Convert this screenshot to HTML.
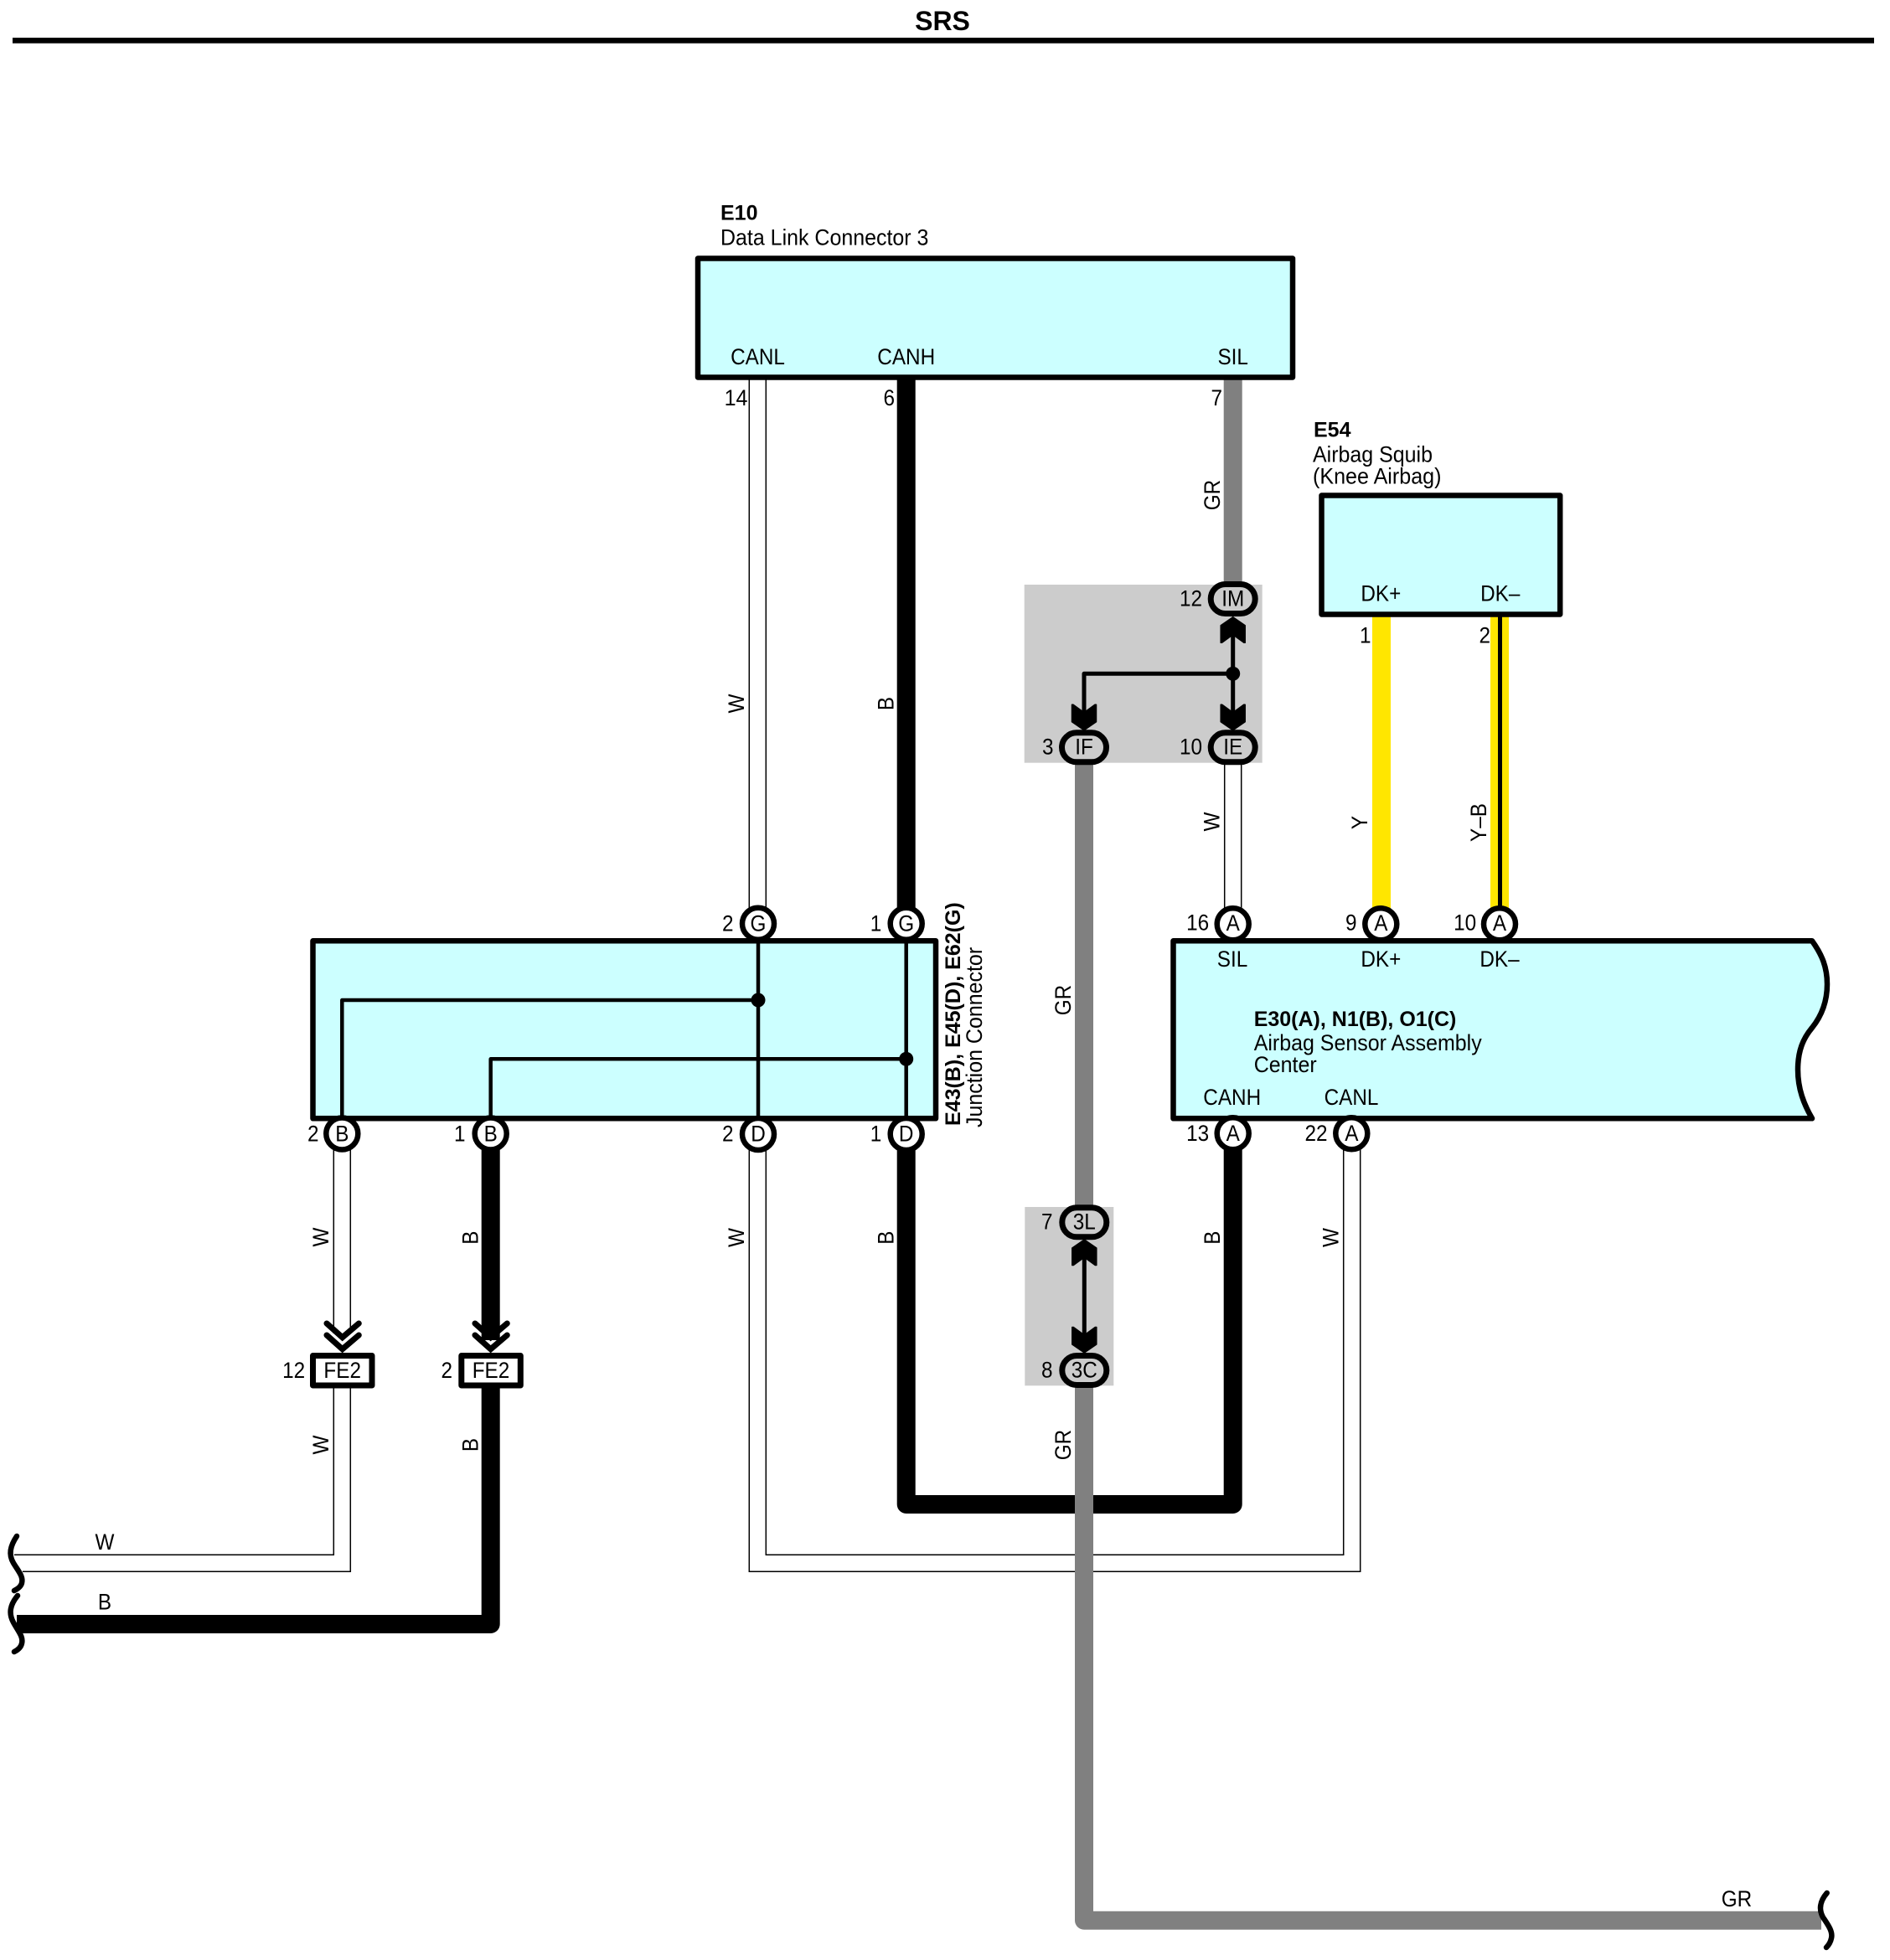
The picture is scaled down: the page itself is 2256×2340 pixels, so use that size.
<!DOCTYPE html>
<html><head><meta charset="utf-8"><title>SRS</title>
<style>
html,body{margin:0;padding:0;background:#fff}
svg{display:block}
text{font-family:"Liberation Sans",Arial,sans-serif;fill:#000}
.t{font-size:27px}
.m{font-size:27px;text-anchor:middle}
.e{font-size:27px;text-anchor:end}
.b{font-size:25px;font-weight:bold}
.c{fill:#fff;stroke:#000;stroke-width:6.5}
.p{fill:#ccc;stroke:#000;stroke-width:7}
.box{fill:#ccffff;stroke:#000;stroke-width:6.5;stroke-linejoin:round}
.thin{fill:none;stroke:#000;stroke-width:1.5}
.k{fill:none;stroke:#000;stroke-width:22;stroke-linejoin:round}
.g{fill:none;stroke:#808080;stroke-width:22;stroke-linejoin:round}
.in{fill:none;stroke:#000;stroke-width:4.5;stroke-linejoin:round}
.cv{fill:none;stroke:#000;stroke-width:7;stroke-linecap:round;stroke-linejoin:miter}
.cu{fill:none;stroke:#000;stroke-width:6.5;stroke-linecap:round}
</style></head>
<body>
<svg xmlns="http://www.w3.org/2000/svg" width="2256" height="2340" viewBox="0 0 2256 2340">
<rect width="2256" height="2340" fill="#fff"/>
<defs>
<path id="au" d="M0 0L14.5 10V30.5H13L0 21L-13 30.5H-14.5V10Z" fill="#000" stroke="#000" stroke-width="1.5" stroke-linejoin="round"/>
<path id="ad" d="M0 0L14.5 -10V-30.5H13L0 -21L-13 -30.5H-14.5V-10Z" fill="#000" stroke="#000" stroke-width="1.5" stroke-linejoin="round"/>
</defs>

<!-- title -->
<text x="1125" y="36" style="font-size:32px;font-weight:bold;text-anchor:middle">SRS</text>
<rect x="15" y="45" width="2222" height="6.7" fill="#000"/>

<!-- shaded boxes -->
<rect x="1222.7" y="698" width="284" height="212.7" fill="#ccc"/>
<rect x="1223.3" y="1441" width="106" height="213.3" fill="#ccc"/>

<!-- thin W wires -->
<path class="thin" d="M894.3 452V1085M914.3 452V1085"/>
<path class="thin" d="M1461.7 910V1085M1481.7 910V1085"/>
<path class="thin" d="M894.3 1370V1876.3H1623.7V1370M914.3 1370V1856.3H1603.7V1370"/>
<path class="thin" d="M398.3 1370V1592M418.3 1370V1592"/>
<path class="thin" d="M398.3 1657V1856.3H17M418.3 1657V1876.3H27"/>

<!-- black wires -->
<path class="k" d="M1081.7 452V1085"/>
<path class="k" d="M1081.7 1370V1796H1471.7V1370"/>
<path class="k" d="M585.7 1370V1600"/>
<path class="k" d="M585.7 1655V1939H20"/>

<!-- gray wires -->
<path class="g" d="M1471.7 452V700"/>
<path class="g" d="M1294 910V1441"/>
<path class="g" d="M1294 1654V2292.7H2174"/>

<!-- yellow wires -->
<rect x="1638" y="735" width="22" height="350" fill="#ffe600"/>
<rect x="1779" y="735" width="22" height="350" fill="#ffe600"/>
<rect x="1788" y="735" width="5" height="350" fill="#000"/>

<!-- boxes -->
<rect class="box" x="833" y="308.5" width="710" height="142"/>
<rect class="box" x="1577.5" y="591.5" width="284.7" height="142"/>
<rect class="box" x="373.5" y="1123.3" width="743.5" height="212"/>
<path class="box" d="M1400.5 1123.3H2163C2175 1140 2181 1155 2181 1175C2181 1195 2175 1212 2163 1227C2152 1240 2146 1255 2146 1277C2146 1300 2153 1318 2163 1335.3H1400.5Z"/>

<!-- junction internals -->
<path class="in" d="M905 1123V1335M1081.7 1123V1335"/>
<path class="in" d="M408.3 1335V1194H905M585.7 1335V1264.3H1081.7"/>
<circle cx="905" cy="1194" r="8.5"/>
<circle cx="1081.7" cy="1264.3" r="8.5"/>

<!-- IM/IE/IF internals -->
<path class="in" style="stroke-width:5" d="M1471.7 745V860M1294 860V804.3H1471.7"/>
<circle cx="1471.7" cy="804.3" r="8.5"/>
<use href="#au" x="1471.7" y="736.7"/>
<use href="#ad" x="1471.7" y="871.7"/>
<use href="#ad" x="1294" y="871.7"/>
<path class="in" style="stroke-width:5" d="M1294.3 1490V1605"/>
<use href="#au" x="1294.3" y="1480"/>
<use href="#ad" x="1294.3" y="1615"/>

<!-- round connectors -->
<circle class="c" cx="905" cy="1102.7" r="19"/>
<circle class="c" cx="1081.7" cy="1102.7" r="19"/>
<circle class="c" cx="905" cy="1354" r="19"/>
<circle class="c" cx="1081.7" cy="1354" r="19"/>
<circle class="c" cx="408.3" cy="1353.5" r="19"/>
<circle class="c" cx="585.7" cy="1353.5" r="19"/>
<circle class="c" cx="1471.7" cy="1103.3" r="19"/>
<circle class="c" cx="1648.3" cy="1103.3" r="19"/>
<circle class="c" cx="1790" cy="1103.3" r="19"/>
<circle class="c" cx="1471.7" cy="1353.3" r="19"/>
<circle class="c" cx="1613.3" cy="1353.3" r="19"/>

<!-- pills -->
<rect class="p" x="1445.2" y="697.5" width="53" height="35" rx="17.5"/>
<rect class="p" x="1445.2" y="874.8" width="53" height="35" rx="17.5"/>
<rect class="p" x="1267.5" y="874.8" width="53" height="35" rx="17.5"/>
<rect class="p" x="1267.8" y="1441.8" width="53" height="35" rx="17.5"/>
<rect class="p" x="1267.8" y="1618.5" width="53" height="35" rx="17.5"/>

<!-- FE2 -->
<path class="cv" d="M390 1580L408.7 1596.7L428.3 1580M390 1594L408.7 1610.7L428.3 1594"/>
<path class="cv" d="M567 1580L585.7 1596.7L605.3 1580M567 1594L585.7 1610.7L605.3 1594"/>
<rect x="373.5" y="1618.5" width="70.5" height="35.5" fill="#fff" stroke="#000" stroke-width="7" stroke-linejoin="round"/>
<rect x="550.8" y="1618.5" width="70.5" height="35.5" fill="#fff" stroke="#000" stroke-width="7" stroke-linejoin="round"/>

<!-- break curls -->
<path class="cu" d="M20 1834C12 1846 10 1856 16 1866C22 1876 28 1882 26 1890C25 1894 21 1897 17 1899"/>
<path class="cu" d="M21 1905C12 1916 10 1926 16 1937C22 1948 28 1954 26 1962C25 1967 21 1970 17 1972"/>
<path class="cu" d="M2180.7 2260C2172 2270 2171 2280 2176 2289C2182 2298 2188 2306 2186 2314C2185 2319 2183 2322 2180 2325"/>

<!-- block titles -->
<text class="b" x="860" y="262.7">E10</text>
<text class="t" transform="translate(860,292.7) scale(.925,1)">Data Link Connector 3</text>
<text class="b" x="1568" y="521.7">E54</text>
<text class="t" transform="translate(1567,551.7) scale(.925,1)">Airbag Squib</text>
<text class="t" transform="translate(1567,577.3) scale(.93,1)">(Knee Airbag)</text>
<text class="b" x="1496.7" y="1225">E30(A), N1(B), O1(C)</text>
<text class="t" transform="translate(1496.7,1254) scale(.925,1)">Airbag Sensor Assembly</text>
<text class="t" transform="translate(1496.7,1280) scale(.925,1)">Center</text>
<text class="b" transform="translate(1146,1344) rotate(-90)">E43(B), E45(D), E62(G)</text>
<text class="t" transform="translate(1172,1346) rotate(-90) scale(.925,1)">Junction Connector</text>

<!-- pin names -->
<text class="m" transform="translate(904.5,435) scale(.9,1)">CANL</text>
<text class="m" transform="translate(1081.7,435) scale(.9,1)">CANH</text>
<text class="m" transform="translate(1471.7,435) scale(.9,1)">SIL</text>
<text class="m" transform="translate(1648.3,717.7) scale(.9,1)">DK+</text>
<text class="m" transform="translate(1790.7,717.7) scale(.9,1)">DK–</text>
<text class="m" transform="translate(1471,1154) scale(.9,1)">SIL</text>
<text class="m" transform="translate(1648.3,1154) scale(.9,1)">DK+</text>
<text class="m" transform="translate(1790,1154) scale(.9,1)">DK–</text>
<text class="m" transform="translate(1470.7,1319) scale(.9,1)">CANH</text>
<text class="m" transform="translate(1613,1319) scale(.9,1)">CANL</text>

<!-- connector letters -->
<text class="m" transform="translate(905,1111.7) scale(.9,1)">G</text>
<text class="m" transform="translate(1081.7,1111.7) scale(.9,1)">G</text>
<text class="m" transform="translate(905,1362.7) scale(.9,1)">D</text>
<text class="m" transform="translate(1081.7,1362.7) scale(.9,1)">D</text>
<text class="m" transform="translate(408.3,1362.3) scale(.9,1)">B</text>
<text class="m" transform="translate(585.7,1362.3) scale(.9,1)">B</text>
<text class="m" transform="translate(1471.7,1111) scale(.9,1)">A</text>
<text class="m" transform="translate(1648.3,1111) scale(.9,1)">A</text>
<text class="m" transform="translate(1790,1111) scale(.9,1)">A</text>
<text class="m" transform="translate(1471.7,1362) scale(.9,1)">A</text>
<text class="m" transform="translate(1613.3,1362) scale(.9,1)">A</text>
<text class="m" transform="translate(1471.7,723.3) scale(.9,1)">IM</text>
<text class="m" transform="translate(1471.7,900.7) scale(.9,1)">IE</text>
<text class="m" transform="translate(1294,900.7) scale(.9,1)">IF</text>
<text class="m" transform="translate(1294.3,1467.3) scale(.9,1)">3L</text>
<text class="m" transform="translate(1294.3,1644.3) scale(.9,1)">3C</text>
<text class="m" transform="translate(408.7,1645) scale(.9,1)">FE2</text>
<text class="m" transform="translate(586,1645) scale(.9,1)">FE2</text>

<!-- pin numbers -->
<text class="e" transform="translate(892.5,484) scale(.93,1)">14</text>
<text class="e" transform="translate(1068,484) scale(.9,1)">6</text>
<text class="e" transform="translate(1459,484) scale(.9,1)">7</text>
<text class="e" transform="translate(1636.5,767.3) scale(.9,1)">1</text>
<text class="e" transform="translate(1779,767.3) scale(.9,1)">2</text>
<text class="e" transform="translate(1435,723.3) scale(.9,1)">12</text>
<text class="e" transform="translate(1257.5,900.7) scale(.9,1)">3</text>
<text class="e" transform="translate(1435,900.7) scale(.9,1)">10</text>
<text class="e" transform="translate(875.5,1111.7) scale(.9,1)">2</text>
<text class="e" transform="translate(1052.2,1111.7) scale(.9,1)">1</text>
<text class="e" transform="translate(1443.2,1110.7) scale(.9,1)">16</text>
<text class="e" transform="translate(1619.5,1110.7) scale(.9,1)">9</text>
<text class="e" transform="translate(1762.2,1110.7) scale(.9,1)">10</text>
<text class="e" transform="translate(380.5,1362.3) scale(.9,1)">2</text>
<text class="e" transform="translate(555.5,1362.3) scale(.9,1)">1</text>
<text class="e" transform="translate(875.5,1362.7) scale(.9,1)">2</text>
<text class="e" transform="translate(1052.2,1362.7) scale(.9,1)">1</text>
<text class="e" transform="translate(1443.2,1362) scale(.9,1)">13</text>
<text class="e" transform="translate(1584.5,1362) scale(.9,1)">22</text>
<text class="e" transform="translate(1256.5,1467.3) scale(.9,1)">7</text>
<text class="e" transform="translate(1256.5,1644.3) scale(.9,1)">8</text>
<text class="e" transform="translate(364.2,1645) scale(.9,1)">12</text>
<text class="e" transform="translate(540,1645) scale(.9,1)">2</text>

<!-- wire colour labels -->
<text class="m" transform="translate(888,840) rotate(-90) scale(.9,1)">W</text>
<text class="m" transform="translate(1066.5,840) rotate(-90) scale(.9,1)">B</text>
<text class="m" transform="translate(1456,591) rotate(-90) scale(.9,1)">GR</text>
<text class="m" transform="translate(1455.5,981) rotate(-90) scale(.9,1)">W</text>
<text class="m" transform="translate(1632,982) rotate(-90) scale(.9,1)">Y</text>
<text class="m" transform="translate(1774,982) rotate(-90) scale(.9,1)">Y–B</text>
<text class="m" transform="translate(1278,1194) rotate(-90) scale(.9,1)">GR</text>
<text class="m" transform="translate(1278,1725) rotate(-90) scale(.9,1)">GR</text>
<text class="m" transform="translate(392,1477) rotate(-90) scale(.9,1)">W</text>
<text class="m" transform="translate(570.7,1477.7) rotate(-90) scale(.9,1)">B</text>
<text class="m" transform="translate(888,1477.6) rotate(-90) scale(.9,1)">W</text>
<text class="m" transform="translate(1066.5,1477.6) rotate(-90) scale(.9,1)">B</text>
<text class="m" transform="translate(1456,1477.6) rotate(-90) scale(.9,1)">B</text>
<text class="m" transform="translate(1597.7,1477.6) rotate(-90) scale(.9,1)">W</text>
<text class="m" transform="translate(392,1725) rotate(-90) scale(.9,1)">W</text>
<text class="m" transform="translate(570.7,1725) rotate(-90) scale(.9,1)">B</text>
<text class="m" transform="translate(125,1850) scale(.9,1)">W</text>
<text class="m" transform="translate(125,1921.7) scale(.9,1)">B</text>
<text class="m" transform="translate(2073,2276) scale(.9,1)">GR</text>
</svg>
</body></html>
